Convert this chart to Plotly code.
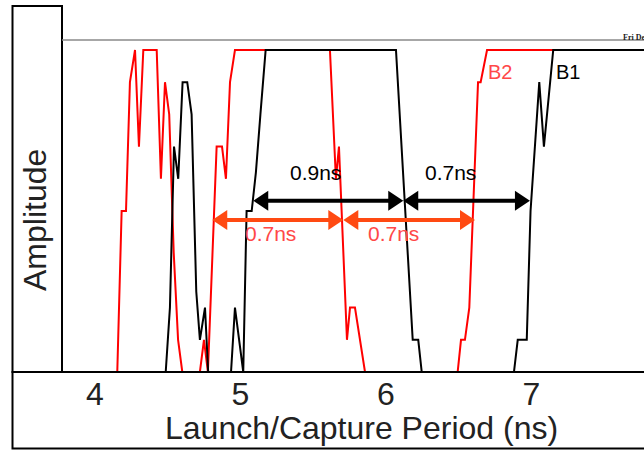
import plotly.graph_objects as go

# ---------------- data ----------------
X_MIN, X_MAX = 3.774, 7.775
Y_MIN, Y_MAX = 0.0, 10.31

tick_vals = [4, 5, 6, 7]
tick_text = ["4", "5", "6", "7"]

b2_time = [3.774, 4.154, 4.184, 4.214, 4.241, 4.276, 4.303, 4.333, 4.425, 4.454,
           4.482, 4.511, 4.542, 4.572, 4.601, 4.722, 4.750, 4.777, 4.837, 4.874,
           4.901, 4.929, 4.963, 5.616, 5.657, 5.678, 5.733, 5.754, 5.788, 5.857,
           6.494, 6.517, 6.544, 6.574, 6.634, 6.652, 6.696, 7.775]
b2_amp = [0, 0, 5, 5, 9, 10, 7, 10, 10, 6,
          9, 8, 3.7, 1, 0, 0, 1, 0, 7, 7,
          6, 9, 10, 10, 6, 7, 1, 2, 2, 0,
          0, 1, 1, 2, 9, 9, 10, 10]

b1_time = [3.774, 4.487, 4.516, 4.544, 4.573, 4.603, 4.635, 4.665, 4.697, 4.722,
           4.757, 4.779, 4.936, 4.963, 5.020, 5.043, 5.078, 5.107, 5.138, 5.174,
           6.070, 6.185, 6.223, 6.247, 6.881, 6.907, 6.969, 6.995, 7.055, 7.087,
           7.151, 7.775]
b1_amp = [0, 0, 2, 7, 6, 9, 9, 8, 2.5, 1,
          2, 0, 0, 2, 0, 5, 5, 6.2, 8, 10,
          10, 1, 1, 0, 0, 1, 1, 5, 9, 7,
          10, 10]

# measured periods (double arrows)
b1_periods = [(5.089, 6.120), (6.120, 6.991)]
b1_period_text = ["0.9ns", "0.7ns"]
b1_label_x = [5.517, 6.448]
b1_arrow_level = 5.32
b1_label_level = 6.21

b2_periods = [(4.807, 5.708), (5.708, 6.613)]
b2_period_text = ["0.7ns", "0.7ns"]
b2_label_x = [5.204, 6.053]
b2_arrow_level = 4.72
b2_label_level = 4.29

series_names = ["B2", "B1"]
series_label_x = [6.784, 7.252]
series_label_level = 9.32

# ---------------- layout geometry ----------------
W, H = 644, 450
ML, MR, MT, MB = 62, 0, 40, 78
PW, PH = W - ML - MR, H - MT - MB
PXX = PW / (X_MAX - X_MIN)
PXY = PH / (Y_MAX - Y_MIN)

def px_x(px):
    return (px - ML) / PW

def px_y(py):
    return (H - MB - py) / PH

FONT = "Liberation Sans, Arial, sans-serif"
RED = "#ff0000"
BLACK = "#000000"
ARROW_RED = "#ff4a12"
TEXT_RED = "#ff4848"

fig = go.Figure()
fig.add_trace(go.Scatter(x=b2_time, y=b2_amp, mode="lines", name="B2",
                         line=dict(color=RED, width=2), hoverinfo="skip"))
fig.add_trace(go.Scatter(x=b1_time, y=b1_amp, mode="lines", name="B1",
                         line=dict(color=BLACK, width=2), hoverinfo="skip"))

shapes = []
annotations = []

def double_arrow(x0, x1, y, color, head_len=15, head_h=20, lw=4):
    L = head_len / PXX
    hh = head_h / 2 / PXY
    shapes.append(dict(type="line", xref="x", yref="y", x0=x0 + L * 0.7, x1=x1 - L * 0.7,
                       y0=y, y1=y, line=dict(color=color, width=lw)))
    left = f"M{x0},{y} L{x0 + L},{y + hh} L{x0 + L},{y - hh} Z"
    right = f"M{x1},{y} L{x1 - L},{y + hh} L{x1 - L},{y - hh} Z"
    for p in (left, right):
        shapes.append(dict(type="path", xref="x", yref="y", path=p,
                           fillcolor=color, line=dict(color=color, width=0)))

for (a, b), t, lx in zip(b2_periods, b2_period_text, b2_label_x):
    double_arrow(a, b, b2_arrow_level, ARROW_RED)
    annotations.append(dict(x=lx, y=b2_label_level, xref="x", yref="y", text=t,
                            xanchor="center", yanchor="middle",
                            showarrow=False, font=dict(family=FONT, size=21, color=TEXT_RED)))

for (a, b), t, lx in zip(b1_periods, b1_period_text, b1_label_x):
    double_arrow(a, b, b1_arrow_level, BLACK)
    annotations.append(dict(x=lx, y=b1_label_level, xref="x", yref="y", text=t,
                            xanchor="center", yanchor="middle",
                            showarrow=False, font=dict(family=FONT, size=21, color=BLACK)))

for name, lx, col in zip(series_names, series_label_x, [TEXT_RED, BLACK]):
    annotations.append(dict(x=lx, y=series_label_level, xref="x", yref="y", text=name,
                            xanchor="center", yanchor="middle",
                            showarrow=False, font=dict(family=FONT, size=20, color=col)))

# frame boxes
shapes.append(dict(type="rect", xref="paper", yref="paper",
                   x0=px_x(12.5), x1=0, y0=0, y1=px_y(6),
                   line=dict(color=BLACK, width=2), layer="above"))
shapes.append(dict(type="rect", xref="paper", yref="paper",
                   x0=px_x(12.5), x1=1.05, y0=px_y(448.5), y1=0,
                   line=dict(color=BLACK, width=2), layer="above"))
shapes.append(dict(type="line", xref="paper", yref="paper",
                   x0=0, x1=1, y0=1, y1=1, line=dict(color="#8a8a8a", width=1.5)))

# axis titles as text
annotations.append(dict(x=px_x(361.5), y=px_y(428), xref="paper", yref="paper",
                        xanchor="center", yanchor="middle",
                        text="Launch/Capture Period (ns)", showarrow=False,
                        font=dict(family=FONT, size=32, color="#222222")))
annotations.append(dict(x=px_x(35), y=px_y(220), xref="paper", yref="paper",
                        xanchor="center", yanchor="middle",
                        text="Amplitude", textangle=-90, showarrow=False,
                        font=dict(family=FONT, size=32, color="#222222")))
annotations.append(dict(x=px_x(621), y=px_y(37), xref="paper", yref="paper",
                        text="<b>Fri Dec</b>", showarrow=False, xanchor="left", yanchor="middle",
                        font=dict(family="Liberation Serif, serif", size=8, color="#222222")))

fig.update_layout(
    width=W, height=H,
    margin=dict(l=ML, r=MR, t=MT, b=MB, pad=0),
    paper_bgcolor="white", plot_bgcolor="white",
    showlegend=False,
    shapes=shapes, annotations=annotations,
    xaxis=dict(range=[X_MIN, X_MAX], tickvals=tick_vals, ticktext=tick_text,
               showgrid=False, zeroline=False, showline=False, ticks="",
               tickfont=dict(family=FONT, size=32, color="#222222"), fixedrange=True),
    yaxis=dict(range=[Y_MIN, Y_MAX], showgrid=False, zeroline=False, showline=False,
               showticklabels=False, ticks="", fixedrange=True),
)

fig.write_html("out.html", config={"displayModeBar": False})
